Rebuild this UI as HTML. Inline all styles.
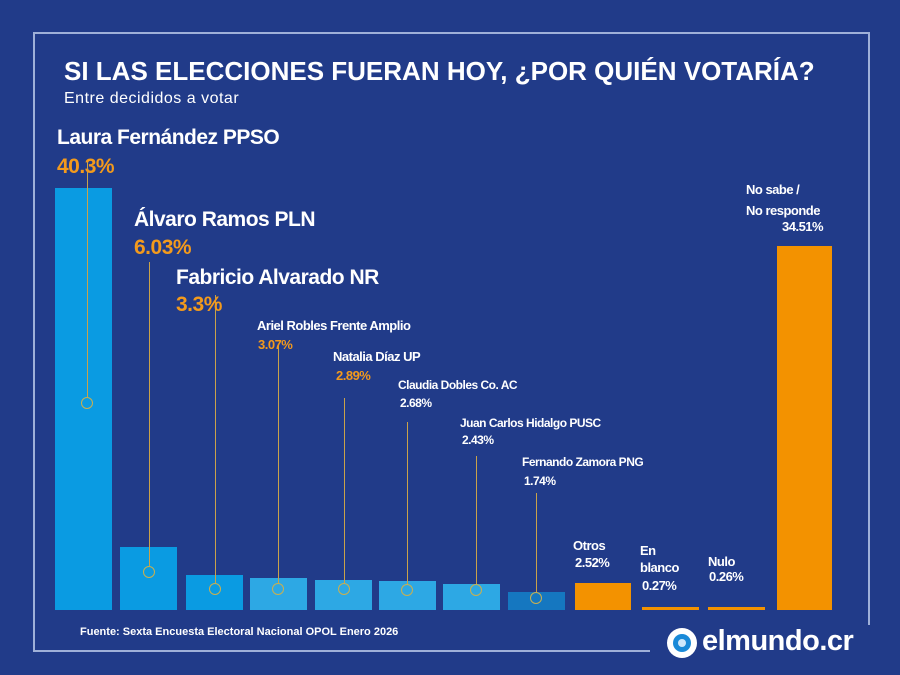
<!DOCTYPE html>
<html><head><meta charset="utf-8"><style>
body{margin:0;width:900px;height:675px;background:#213b89;position:relative;overflow:hidden;font-family:"Liberation Sans","DejaVu Sans",sans-serif;color:#fff}
.a{position:absolute}
.b{position:absolute;bottom:65px}
.l{position:absolute;width:1px;background:#c9a24a}
.c{position:absolute;width:12px;height:12px;border:1.5px solid #c9b050;border-radius:50%;box-sizing:border-box}
.n{position:absolute;font-weight:bold;letter-spacing:-0.5px;white-space:nowrap}
.o{color:#f39a1c}
</style></head><body>
<div class="a" style="left:33px;top:32px;width:837px;height:2px;background:#9fb0d8"></div>
<div class="a" style="left:33px;top:32px;width:2px;height:619px;background:#9fb0d8"></div>
<div class="a" style="left:868px;top:32px;width:2px;height:593px;background:#9fb0d8"></div>
<div class="a" style="left:33px;top:650px;width:617px;height:2px;background:#9fb0d8"></div>
<div class="n" style="left:64px;top:56px;font-size:26px;letter-spacing:0">SI LAS ELECCIONES FUERAN HOY, ¿POR QUIÉN VOTARÍA?</div>
<div class="n" style="left:64px;top:90px;font-size:16px;font-weight:normal;letter-spacing:0.5px">Entre decididos a votar</div>

<div class="b" style="left:55px;width:57px;height:422px;background:#0a9be2"></div>
<div class="b" style="left:120px;width:57px;height:63px;background:#0a9be2"></div>
<div class="b" style="left:186px;width:57px;height:35px;background:#0a9be2"></div>
<div class="b" style="left:250px;width:57px;height:32px;background:#2da8e4"></div>
<div class="b" style="left:315px;width:57px;height:30px;background:#2da8e4"></div>
<div class="b" style="left:379px;width:57px;height:29px;background:#2da8e4"></div>
<div class="b" style="left:443px;width:57px;height:26px;background:#2da8e4"></div>
<div class="b" style="left:508px;width:57px;height:18px;background:#1577c0"></div>
<div class="b" style="left:575px;width:56px;height:27px;background:#f39200"></div>
<div class="b" style="left:642px;width:57px;height:3px;background:#f39200"></div>
<div class="b" style="left:708px;width:57px;height:3px;background:#f39200"></div>
<div class="b" style="left:777px;width:55px;height:364px;background:#f39200"></div>

<div class="l" style="left:87px;top:160px;height:237px"></div><div class="c" style="left:81px;top:397px"></div>
<div class="l" style="left:149px;top:262px;height:304px"></div><div class="c" style="left:143px;top:566px"></div>
<div class="l" style="left:215px;top:295px;height:288px"></div><div class="c" style="left:209px;top:583px"></div>
<div class="l" style="left:278px;top:345px;height:238px"></div><div class="c" style="left:272px;top:583px"></div>
<div class="l" style="left:344px;top:398px;height:185px"></div><div class="c" style="left:338px;top:583px"></div>
<div class="l" style="left:407px;top:422px;height:162px"></div><div class="c" style="left:401px;top:584px"></div>
<div class="l" style="left:476px;top:456px;height:128px"></div><div class="c" style="left:470px;top:584px"></div>
<div class="l" style="left:536px;top:493px;height:99px"></div><div class="c" style="left:530px;top:592px"></div>

<div class="n" style="left:57px;top:126px;font-size:21px">Laura Fernández PPSO</div>
<div class="n o" style="left:57px;top:155px;font-size:21px">40.3%</div>
<div class="n" style="left:134px;top:208px;font-size:21px">Álvaro Ramos PLN</div>
<div class="n o" style="left:134px;top:236px;font-size:21px">6.03%</div>
<div class="n" style="left:176px;top:266px;font-size:21px">Fabricio Alvarado NR</div>
<div class="n o" style="left:176px;top:293px;font-size:21px">3.3%</div>
<div class="n" style="left:257px;top:318px;font-size:13px">Ariel Robles Frente Amplio</div>
<div class="n o" style="left:258px;top:337px;font-size:13px">3.07%</div>
<div class="n" style="left:333px;top:349px;font-size:13px">Natalia Díaz UP</div>
<div class="n o" style="left:336px;top:368px;font-size:13px">2.89%</div>
<div class="n" style="left:398px;top:378px;font-size:12px">Claudia Dobles Co. AC</div>
<div class="n" style="left:400px;top:396px;font-size:12px">2.68%</div>
<div class="n" style="left:460px;top:416px;font-size:12px">Juan Carlos Hidalgo PUSC</div>
<div class="n" style="left:462px;top:433px;font-size:12px">2.43%</div>
<div class="n" style="left:522px;top:455px;font-size:12px">Fernando Zamora PNG</div>
<div class="n" style="left:524px;top:474px;font-size:12px">1.74%</div>
<div class="n" style="left:573px;top:538px;font-size:13px">Otros</div>
<div class="n" style="left:575px;top:555px;font-size:13px">2.52%</div>
<div class="n" style="left:640px;top:542px;font-size:13px;line-height:17px">En<br>blanco</div>
<div class="n" style="left:642px;top:578px;font-size:13px">0.27%</div>
<div class="n" style="left:708px;top:554px;font-size:13px">Nulo</div>
<div class="n" style="left:709px;top:569px;font-size:13px">0.26%</div>
<div class="n" style="left:746px;top:179px;font-size:13px;line-height:21px">No sabe /<br>No responde</div>
<div class="n" style="left:782px;top:219px;font-size:13px">34.51%</div>

<div class="n" style="left:80px;top:626px;font-size:11px;font-weight:bold;letter-spacing:0">Fuente: Sexta Encuesta Electoral Nacional OPOL Enero 2026</div>
<div class="a" style="left:667px;top:628px;width:30px;height:30px;border-radius:50%;background:#fff"></div>
<div class="a" style="left:673px;top:634px;width:18px;height:18px;border-radius:50%;background:#1a8ad8"></div>
<div class="a" style="left:678px;top:639px;width:8px;height:8px;border-radius:50%;background:#cfe8fb"></div>
<div class="n" style="left:702px;top:625px;font-size:29px;letter-spacing:-0.5px">elmundo.cr</div>
</body></html>
